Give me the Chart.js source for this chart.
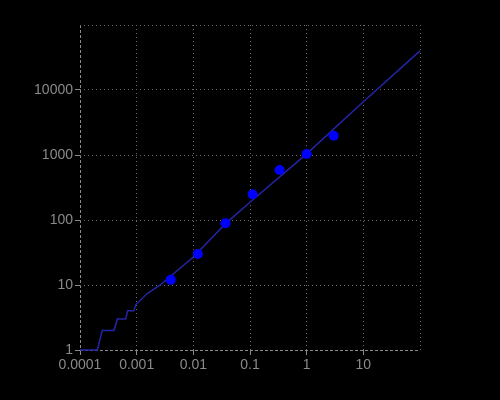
<!DOCTYPE html>
<html>
<head>
<meta charset="utf-8">
<script src="https://cdn.jsdelivr.net/npm/chart.js@4"></script>
<style>
  html, body { margin: 0; padding: 0; background: #000; }
  #wrap { width: 500px; height: 400px; }
</style>
</head>
<body>
<div id="wrap"><canvas id="chart" width="500" height="400"></canvas></div>
<script>
// curve (steps at the low end)
const lineX = [0.0001, 0.000202, 0.000247, 0.000398, 0.000455, 0.00064, 0.000693, 0.000895, 0.00097, 0.00154, 0.0026, 0.01, 0.037, 0.111, 1, 10, 100];
const lineY = [1, 1, 2, 2, 3, 3, 4, 4, 5, 7.4, 10, 27, 88, 203, 1040, 6600, 40000];

// measured points
const pointX = [0.004, 0.012, 0.037, 0.111, 0.333, 1, 3];
const pointY = [12, 30, 89, 249, 588, 1036, 1980];

// axis ticks
const xTicks = [0.0001, 0.001, 0.01, 0.1, 1, 10, 100];
const xTickLabels = ['0.0001', '0.001', '0.01', '0.1', '1', '10', ''];
const yTicks = [1, 10, 100, 1000, 10000, 100000];
const yTickLabels = ['1', '10', '100', '1000', '10000', ''];

const axisColor = '#8a8a8a';
const gridColor = '#6a6a6a';

const blackBg = {
  id: 'blackBg',
  beforeDraw(chart) {
    const { ctx, width, height } = chart;
    ctx.save();
    ctx.fillStyle = '#000';
    ctx.fillRect(0, 0, width, height);
    ctx.restore();
  },
};

function gridOpts(count) {
  return {
    color: (ctx) => (ctx.index === 0 ? axisColor : gridColor),
    lineWidth: 1,
    drawTicks: true,
    tickLength: 5,
    tickColor: (ctx) => (ctx.index === count - 1 ? 'rgba(0,0,0,0)' : axisColor),
  };
}

new Chart(document.getElementById('chart').getContext('2d'), {
  type: 'scatter',
  data: {
    datasets: [
      {
        label: 'points',
        data: pointX.map((x, i) => ({ x, y: pointY[i] })),
        pointRadius: 5,
        pointBackgroundColor: '#0000ff',
        pointBorderWidth: 0,
        showLine: false,
        order: 0,
      },
      {
        label: 'fit',
        data: lineX.map((x, i) => ({ x, y: lineY[i] })),
        showLine: true,
        pointRadius: 0,
        borderColor: '#2424a8',
        borderWidth: 1.5,
        clip: 3,
        order: 1,
      },
    ],
  },
  options: {
    responsive: false,
    animation: false,
    layout: { padding: { left: 20, right: 80, top: 25, bottom: 20 } },
    plugins: {
      legend: { display: false },
      tooltip: { enabled: false },
    },
    scales: {
      x: {
        type: 'logarithmic',
        min: 0.0001,
        max: 100,
        afterBuildTicks: (scale) => { scale.ticks = xTicks.map((v) => ({ value: v })); },
        afterFit: (scale) => { scale.height = 30; },
        grid: gridOpts(xTicks.length),
        border: { display: false, dash: (ctx) => (ctx.index === 0 ? [3, 2] : [1, 3]) },
        ticks: {
          autoSkip: false,
          maxRotation: 0,
          padding: 2,
          color: axisColor,
          font: { family: 'Liberation Sans', size: 14 },
          callback: (v, i) => xTickLabels[i],
        },
      },
      y: {
        type: 'logarithmic',
        min: 1,
        max: 100000,
        afterBuildTicks: (scale) => { scale.ticks = yTicks.map((v) => ({ value: v })); },
        afterFit: (scale) => { scale.width = 60; },
        grid: gridOpts(yTicks.length),
        border: { display: false, dash: (ctx) => (ctx.index === 0 ? [3, 2] : [1, 3]) },
        ticks: {
          autoSkip: false,
          padding: 2,
          color: axisColor,
          font: { family: 'Liberation Sans', size: 14 },
          callback: (v, i) => yTickLabels[i],
        },
      },
    },
  },
  plugins: [blackBg],
});
</script>
</body>
</html>
